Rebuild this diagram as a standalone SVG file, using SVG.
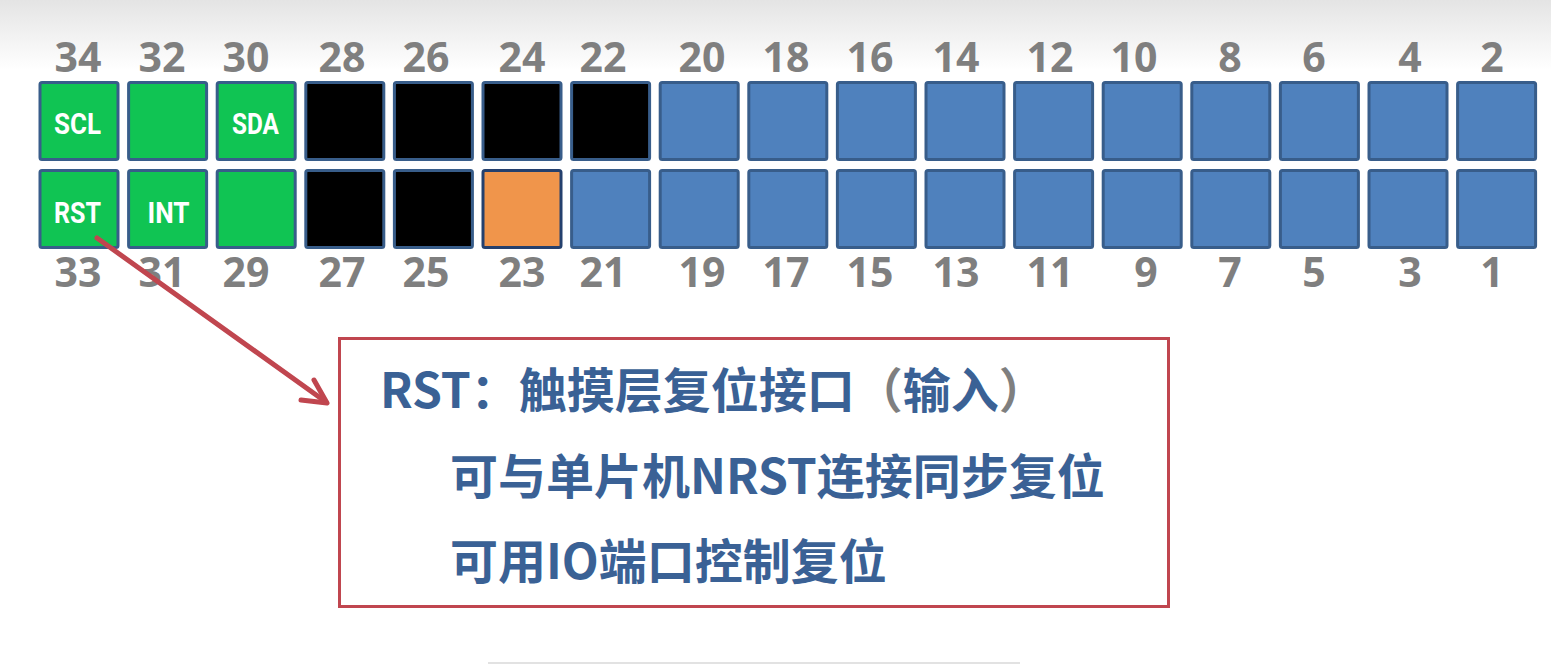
<svg xmlns="http://www.w3.org/2000/svg" width="1551" height="664" viewBox="0 0 1551 664">
<defs>
<linearGradient id="bg" x1="0" y1="0" x2="0" y2="1">
<stop offset="0" stop-color="#e4e4e4"/>
<stop offset="1" stop-color="#ffffff"/>
</linearGradient>
<style>
.pin{stroke:#385D8A;stroke-width:3}
.g{fill:#10C453}
.b{fill:#4F81BD}
.k{fill:#000000}
.o{fill:#F0954B}
.num{font-family:"Open Sans","Liberation Sans",sans-serif;font-weight:bold;font-size:41px;fill:#7F7F7F;text-anchor:middle}
.pl{font-family:Roboto,"Liberation Sans",sans-serif;font-weight:bold;font-size:29px;fill:#ffffff;text-anchor:middle}
.t{font-family:"Noto Sans CJK SC","Noto Sans",sans-serif;font-weight:bold;font-size:48px;fill:#3A6195}
.gp{fill:#7F7F7F}
.arrow{fill:none;stroke:#C0464F;stroke-width:5;stroke-linecap:round;stroke-linejoin:round}
</style>
</defs>
<rect width="1551" height="664" fill="#ffffff"/>
<rect width="1551" height="70" fill="url(#bg)"/>
<line x1="488" y1="663" x2="1020" y2="663" stroke="#e2e2e2" stroke-width="2"/>

<g id="top-row">
<g id="pin34"><rect class="pin g" x="40" y="82.5" width="78" height="77" rx="2"/><text class="pl" x="77.5" y="134" textLength="47" lengthAdjust="spacingAndGlyphs">SCL</text></g>
<g id="pin32"><rect class="pin g" x="128.6" y="82.5" width="78" height="77" rx="2"/></g>
<g id="pin30"><rect class="pin g" x="217.2" y="82.5" width="78" height="77" rx="2"/><text class="pl" x="255.5" y="134" textLength="47" lengthAdjust="spacingAndGlyphs">SDA</text></g>
<g id="pin28"><rect class="pin k" x="305.8" y="82.5" width="78" height="77" rx="2"/></g>
<g id="pin26"><rect class="pin k" x="394.4" y="82.5" width="78" height="77" rx="2"/></g>
<g id="pin24"><rect class="pin k" x="483" y="82.5" width="78" height="77" rx="2"/></g>
<g id="pin22"><rect class="pin k" x="571.6" y="82.5" width="78" height="77" rx="2"/></g>
<g id="pin20"><rect class="pin b" x="660.2" y="82.5" width="78" height="77" rx="2"/></g>
<g id="pin18"><rect class="pin b" x="748.8" y="82.5" width="78" height="77" rx="2"/></g>
<g id="pin16"><rect class="pin b" x="837.4" y="82.5" width="78" height="77" rx="2"/></g>
<g id="pin14"><rect class="pin b" x="926" y="82.5" width="78" height="77" rx="2"/></g>
<g id="pin12"><rect class="pin b" x="1014.6" y="82.5" width="78" height="77" rx="2"/></g>
<g id="pin10"><rect class="pin b" x="1103.2" y="82.5" width="78" height="77" rx="2"/></g>
<g id="pin8"><rect class="pin b" x="1191.8" y="82.5" width="78" height="77" rx="2"/></g>
<g id="pin6"><rect class="pin b" x="1280.4" y="82.5" width="78" height="77" rx="2"/></g>
<g id="pin4"><rect class="pin b" x="1369" y="82.5" width="78" height="77" rx="2"/></g>
<g id="pin2"><rect class="pin b" x="1457.6" y="82.5" width="78" height="77" rx="2"/></g>
</g>

<g id="bottom-row">
<g id="pin33"><rect class="pin g" x="40" y="170.5" width="78" height="77" rx="2"/><text class="pl" x="77.5" y="223" textLength="47" lengthAdjust="spacingAndGlyphs">RST</text></g>
<g id="pin31"><rect class="pin g" x="128.6" y="170.5" width="78" height="77" rx="2"/><text class="pl" x="168.5" y="223" textLength="42" lengthAdjust="spacingAndGlyphs">INT</text></g>
<g id="pin29"><rect class="pin g" x="217.2" y="170.5" width="78" height="77" rx="2"/></g>
<g id="pin27"><rect class="pin k" x="305.8" y="170.5" width="78" height="77" rx="2"/></g>
<g id="pin25"><rect class="pin k" x="394.4" y="170.5" width="78" height="77" rx="2"/></g>
<g id="pin23"><rect class="pin o" x="483" y="170.5" width="78" height="77" rx="2" style="stroke:#24406E"/></g>
<g id="pin21"><rect class="pin b" x="571.6" y="170.5" width="78" height="77" rx="2"/></g>
<g id="pin19"><rect class="pin b" x="660.2" y="170.5" width="78" height="77" rx="2"/></g>
<g id="pin17"><rect class="pin b" x="748.8" y="170.5" width="78" height="77" rx="2"/></g>
<g id="pin15"><rect class="pin b" x="837.4" y="170.5" width="78" height="77" rx="2"/></g>
<g id="pin13"><rect class="pin b" x="926" y="170.5" width="78" height="77" rx="2"/></g>
<g id="pin11"><rect class="pin b" x="1014.6" y="170.5" width="78" height="77" rx="2"/></g>
<g id="pin9"><rect class="pin b" x="1103.2" y="170.5" width="78" height="77" rx="2"/></g>
<g id="pin7"><rect class="pin b" x="1191.8" y="170.5" width="78" height="77" rx="2"/></g>
<g id="pin5"><rect class="pin b" x="1280.4" y="170.5" width="78" height="77" rx="2"/></g>
<g id="pin3"><rect class="pin b" x="1369" y="170.5" width="78" height="77" rx="2"/></g>
<g id="pin1"><rect class="pin b" x="1457.6" y="170.5" width="78" height="77" rx="2"/></g>
</g>

<g id="top-numbers">
<text class="num" x="78" y="72">34</text>
<text class="num" x="162" y="72">32</text>
<text class="num" x="246" y="72">30</text>
<text class="num" x="342" y="72">28</text>
<text class="num" x="426" y="72">26</text>
<text class="num" x="522" y="72">24</text>
<text class="num" x="603" y="72">22</text>
<text class="num" x="702" y="72">20</text>
<text class="num" x="786" y="72">18</text>
<text class="num" x="870" y="72">16</text>
<text class="num" x="956" y="72">14</text>
<text class="num" x="1050" y="72">12</text>
<text class="num" x="1134" y="72">10</text>
<text class="num" x="1230" y="72">8</text>
<text class="num" x="1314" y="72">6</text>
<text class="num" x="1410" y="72">4</text>
<text class="num" x="1492" y="72">2</text>
</g>
<g id="bottom-numbers">
<text class="num" x="78" y="287">33</text>
<text class="num" x="162" y="287">31</text>
<text class="num" x="246" y="287">29</text>
<text class="num" x="342" y="287">27</text>
<text class="num" x="426" y="287">25</text>
<text class="num" x="522" y="287">23</text>
<text class="num" x="603" y="287">21</text>
<text class="num" x="702" y="287">19</text>
<text class="num" x="786" y="287">17</text>
<text class="num" x="870" y="287">15</text>
<text class="num" x="956" y="287">13</text>
<text class="num" x="1050" y="287">11</text>
<text class="num" x="1146" y="287">9</text>
<text class="num" x="1230" y="287">7</text>
<text class="num" x="1314" y="287">5</text>
<text class="num" x="1410" y="287">3</text>
<text class="num" x="1492" y="287">1</text>
</g>

<g id="connectors">
<line class="arrow" x1="97" y1="238" x2="326" y2="402"/>
<polyline class="arrow" points="314,380 327,403 301,400"/>
</g>

<g id="note">
<rect x="339.5" y="338.5" width="829" height="268" fill="#ffffff" stroke="#C0464F" stroke-width="3"/>
<text class="t" x="380" y="408">RST：触摸层复位接口<tspan class="gp">（</tspan>输入<tspan class="gp">）</tspan></text>
<text class="t" x="450" y="494">可与单片机NRST连接同步复位</text>
<text class="t" x="450" y="579">可用IO端口控制复位</text>
</g>
</svg>
